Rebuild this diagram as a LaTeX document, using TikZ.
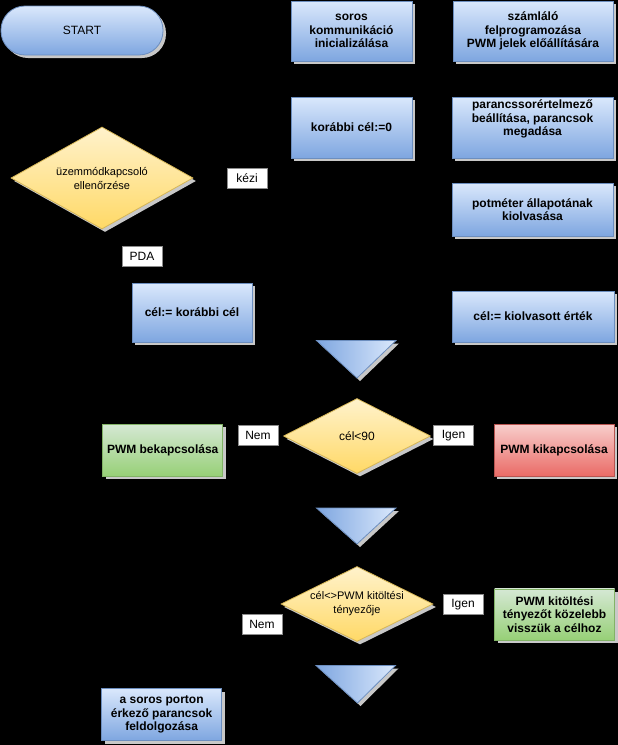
\documentclass[tikz,border=0pt]{standalone}
\usepackage{fontspec}
\setmainfont{Liberation Sans}
\usetikzlibrary{shapes.geometric,shadows,arrows.meta,calc}
\definecolor{bfill}{HTML}{DAE8FC}
\definecolor{bgrad}{HTML}{7EA6E0}
\definecolor{bline}{HTML}{6C8EBF}
\definecolor{yfill}{HTML}{FFF2CC}
\definecolor{ygrad}{HTML}{FFD966}
\definecolor{yline}{HTML}{D6B656}
\definecolor{gfill}{HTML}{D5E8D4}
\definecolor{ggrad}{HTML}{97D077}
\definecolor{gline}{HTML}{82B366}
\definecolor{rfill}{HTML}{F8CECC}
\definecolor{rgrad}{HTML}{EA6B66}
\definecolor{rline}{HTML}{B85450}
\definecolor{shad}{HTML}{C8C8C8}
\definecolor{lblline}{HTML}{8C8C8C}
\pgfdeclarelayer{bglayer}
\pgfdeclarelayer{edgelayer}
\pgfsetlayers{bglayer,edgelayer,main}
\begin{document}
\begin{tikzpicture}[x=1pt,y=-1pt,
  sh/.style={general shadow={shadow xshift=3pt,shadow yshift=-3pt,fill=shad}},
  boxbase/.style={rectangle,sh,line width=0.8pt,inner sep=0pt,align=center,
    font=\fontsize{12}{13.5}\selectfont\bfseries},
  bluebox/.style={boxbase,draw=bline,top color=bfill,bottom color=bgrad},
  greenbox/.style={boxbase,draw=gline,top color=gfill,bottom color=ggrad},
  redbox/.style={boxbase,draw=rline,top color=rfill,bottom color=rgrad},
  decision/.style={diamond,aspect=2,sh,draw=yline,top color=yfill,bottom color=ygrad,
    line width=0.8pt,inner sep=-2pt,align=center,font=\fontsize{11}{14}\selectfont},
  merge/.style={sh,draw=bline,left color=bgrad,right color=bfill,line width=0.8pt},
  lbl/.style={rectangle,draw=lblline,fill=white,line width=0.6pt,minimum width=40pt,
    minimum height=20pt,inner sep=0pt,font=\fontsize{12}{14}\selectfont},
  conn/.style={draw=black,line width=0.8pt,-{Stealth[length=6pt]}},
  bxtext/.style={align=center,inner sep=0pt,font=\fontsize{12}{13.5}\selectfont\bfseries}
]
\useasboundingbox (0,0) rectangle (618,745);
\begin{pgfonlayer}{bglayer}
\fill[black] (0,0) rectangle (618,745);
\end{pgfonlayer}

% start
\node[rectangle,rounded corners=24pt,sh,draw=bline,top color=bfill,bottom color=bgrad,
  line width=0.8pt,minimum width=162pt,minimum height=49pt,
  font=\fontsize{12}{14}\selectfont] (start) at (82,30.5) {START};

% top row boxes
\node[bluebox,minimum width=121pt,minimum height=60pt] (soros) at (351.5,31)
  {soros\\kommunikáció\\inicializálása};
\node[bluebox,minimum width=160pt,minimum height=60pt] (szaml) at (533,31)
  {számláló\\felprogramozása\\PWM jelek előállítására};
\node[bluebox,minimum width=121pt,minimum height=61pt] (kor0) at (351.5,127.5)
  {korábbi cél:=0};
\node[bluebox,minimum width=161pt,minimum height=61pt] (parancs) at (532.5,127.5) {};
\node[bxtext] (parancstxt) at (532.5,119)
  {parancssorértelmező\\beállítása, parancsok\\megadása};
\node[bluebox,minimum width=161pt,minimum height=53pt] (pot) at (532.5,209.5)
  {potméter állapotának\\kiolvasása};

% mode decision
\node[decision,minimum width=182pt,minimum height=102pt] (d1) at (102,178)
  {üzemmódkapcsoló\\ellenőrzése};
\node[lbl] (kezi) at (247,178) {kézi};
\node[lbl] (pda) at (142,256) {PDA};

\node[bluebox,minimum width=120pt,minimum height=59pt] (korc) at (192,312.5)
  {cél:= korábbi cél};
\node[bluebox,minimum width=162pt,minimum height=51pt] (kiol) at (533,316.5)
  {cél:= kiolvasott érték};

% merge 1
\coordinate (t1l) at (316.5,340.5);
\coordinate (t1r) at (396,340.5);
\coordinate (t1top) at (357,340.5);
\coordinate (t1tip) at (357,378);
\path[merge] (t1l) -- (t1r) -- (t1tip) -- cycle;

% decision cél<90
\node[decision,minimum width=147pt,minimum height=75pt,font=\fontsize{12}{14}\selectfont] (d2) at (357,436) {cél<90};
\node[lbl] (nem1) at (258,435.5) {Nem};
\node[lbl] (igen1) at (453.5,435.5) {Igen};
\node[greenbox,minimum width=120pt,minimum height=52pt] (bek) at (162.7,450)
  {PWM bekapcsolása};
\node[redbox,minimum width=120pt,minimum height=52pt] (kik) at (554,450)
  {PWM kikapcsolása};

% merge 2
\coordinate (t2l) at (316.5,508);
\coordinate (t2r) at (396,508);
\coordinate (t2top) at (357,508);
\coordinate (t2tip) at (357,544);
\path[merge] (t2l) -- (t2r) -- (t2tip) -- cycle;

% decision 2
\node[decision,minimum width=152pt,minimum height=75pt] (d3) at (357,604)
  {cél<>PWM kitöltési\\tényezője};
\node[lbl] (igen2) at (463,604.5) {Igen};
\node[lbl] (nem2) at (262,624.5) {Nem};
\node[greenbox,minimum width=120pt,minimum height=51pt] (kit) at (554.5,614.4)
  {PWM kitöltési\\tényezőt közelebb\\visszük a célhoz};

% merge 3
\coordinate (t3l) at (316,665.5);
\coordinate (t3r) at (395.5,665.5);
\coordinate (t3top) at (357.5,665.5);
\coordinate (t3tip) at (357.5,703);
\path[merge] (t3l) -- (t3r) -- (t3tip) -- cycle;

\node[bluebox,minimum width=120pt,minimum height=52pt] (asor) at (161.6,714.5)
  {a soros porton\\érkező parancsok\\feldolgozása};

% connectors (black, as in the reference)
\begin{pgfonlayer}{edgelayer}
\draw[conn] (start.east) -- (soros.west);
\draw[conn] (soros.east) -- (szaml.west);
\draw[conn] (szaml.south) -- (parancs.north);
\draw[conn] (parancs.west) -- (kor0.east);
\draw[conn] (kor0.west) -| (d1.north);
\draw[conn] (d1.east) -- (kezi.center) -- ++(173,0) |- (pot.west);
\draw[conn] (d1.south) |- (pda.center) -| (korc.north);
\draw[conn] (pot.south) -- (kiol.north);
\draw[conn] (korc.east) -| (t1top);
\draw[conn] (kiol.west) -| (t1top);
\draw[conn] (t1tip) -- (d2.north);
\draw[conn] (d2.west) -- (nem1.center) -- ++(-20,0) |- (bek.east);
\draw[conn] (d2.east) -- (igen1.center) -- ++(20,0) |- (kik.west);
\draw[conn] ([yshift=-18pt]bek.east) -| (t2top);
\draw[conn] (kik.south) |- (t2top);
\draw[conn] (t2tip) -- (d3.north);
\draw[conn] (d3.east) -- (igen2.center) -- ++(12,0) |- (kit.west);
\draw[conn] (d3.west) -| (nem2.center) |- ($(t3top)+(0,-8)$) -- (t3top);
\draw[conn] (kit.south) |- (t3top);
\draw[conn] (t3tip) |- (asor.east);
\end{pgfonlayer}
\end{tikzpicture}
\end{document}
